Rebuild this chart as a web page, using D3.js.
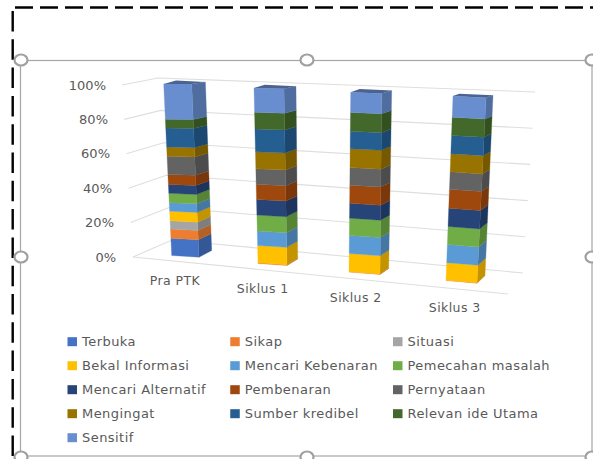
<!DOCTYPE html>
<html>
<head>
<meta charset="utf-8">
<script src="https://cdn.jsdelivr.net/npm/d3@7"></script>
<style>
  html, body { margin: 0; padding: 0; background: #fff; overflow: hidden; }
  text { font-family: "DejaVu Sans", sans-serif; fill: #595959; }
</style>
</head>
<body>
<div id="chart"></div>
<script>
var categories = ["Pra PTK", "Siklus 1", "Siklus 2", "Siklus 3"];

var seriesNames = [
    "Terbuka", "Sikap", "Situasi",
    "Bekal Informasi", "Mencari Kebenaran", "Pemecahan masalah",
    "Mencari Alternatif", "Pembenaran", "Pernyataan",
    "Mengingat", "Sumber kredibel", "Relevan ide Utama",
    "Sensitif"
];

var seriesColors = [
    "#4472c4", "#ed7d31", "#a5a5a5",
    "#ffc000", "#5b9bd5", "#70ad47",
    "#264478", "#9e480e", "#636363",
    "#997300", "#255e91", "#43682b",
    "#698ed0"
];

// percent share, one row per category, same order as seriesNames
var praPtk   = [10.0, 5.4, 4.8, 5.6, 5.0, 5.4, 5.2, 5.8, 10.6, 5.4, 11.0, 5.2, 20.5];
var siklus1  = [0, 0.4, 0, 9.9, 8.3, 9.1, 8.9, 8.7, 8.9, 9.7, 13.1, 9.5, 13.9];
var siklus2  = [0, 0.2, 0, 10.1, 10.1, 9.6, 8.3, 10.1, 9.8, 10.5, 9.8, 10.5, 11.2];
var siklus3  = [0, 0.2, 0, 9.5, 9.9, 9.7, 10.0, 10.2, 9.5, 9.9, 9.9, 9.9, 11.5];
var values = [praPtk, siklus1, siklus2, siklus3];

var yTicks = [0, 20, 40, 60, 80, 100];

var width = 593, height = 459;

var svg = d3.select("#chart").append("svg")
    .attr("width", width)
    .attr("height", height)
    .style("display", "block");

// dashed border of the page, top and left have different dash lengths
svg.append("line")
    .attr("x1", 15).attr("y1", 7.5)
    .attr("x2", width).attr("y2", 7.5)
    .attr("stroke", "#000")
    .attr("stroke-width", 2.4)
    .attr("stroke-dasharray", "18 7");

svg.append("line")
    .attr("x1", 12.7).attr("y1", 11)
    .attr("x2", 12.7).attr("y2", height)
    .attr("stroke", "#000")
    .attr("stroke-width", 2.4)
    .attr("stroke-dasharray", "20.5 7.8");

// selection frame of the pasted chart
svg.append("rect")
    .attr("x", 20.5).attr("y", 60.5)
    .attr("width", 571.5).attr("height", 395.5)
    .attr("fill", "#fff")
    .attr("stroke", "#a6a6a6")
    .attr("stroke-width", 1.2);

// fake 3d: everything is a linear blend between the 0% and 100% planes
var pct = d3.scaleLinear().domain([0, 100]).range([0, 1]);
var wallFrontX = d3.scaleLinear().domain([0, 100]).range([133, 122]);
var wallFrontY = d3.scaleLinear().domain([0, 100]).range([257, 85]);
var wallBackX = d3.scaleLinear().domain([0, 100]).range([172, 158]);
var wallBackY = d3.scaleLinear().domain([0, 100]).range([240, 78]);
var wallEndX = d3.scaleLinear().domain([0, 100]).range([523, 535]);
var wallEndY = d3.scaleLinear().domain([0, 100]).range([273, 92]);
var labelX = d3.scaleLinear().domain([0, 100]).range([116, 106]);

var catIndex = d3.scalePoint().domain(categories).range([0, 3]);
function byCat(range) {
    return d3.scaleLinear().domain([0, 1, 2, 3]).range(range);
}
var leftBottom = byCat([171.7, 258, 349, 446]);
var leftTop = byCat([163.7, 254, 350.7, 453]);
var yBottom = byCat([255.5, 263.5, 272, 280.5]);
var yTop = byCat([84, 88, 92.3, 96]);
var faceBottom = byCat([27.3, 29, 31, 31]);
var faceTop = byCat([28, 30, 31, 33]);
var sideBottom = byCat([12.7, 10.7, 8.7, 8]);
var sideTop = byCat([13.7, 12, 10, 7]);
var slopeBottom = byCat([1.7, 2, 2.4, 2.7]);
var slopeTop = byCat([0, 0.8, 1.2, 1.7]);
var riseBottom = byCat([6.7, 6.5, 6, 7.6]);
var riseTop = byCat([2, 2.5, 3, 2.5]);
var catLabelX = byCat([175, 262.7, 355.7, 454.7]);
var catLabelY = byCat([281, 289.5, 298, 308]);

var grid = svg.append("g").attr("fill", "none").attr("stroke", "#dedede").attr("stroke-width", 1.1);

yTicks.forEach(function(t) {
    grid.append("polyline").attr("points", [
        [wallFrontX(t), wallFrontY(t)],
        [wallBackX(t), wallBackY(t)],
        [wallEndX(t), wallEndY(t)]
    ].join(" "));
});

// floor edge
grid.append("line")
    .attr("x1", wallFrontX(0)).attr("y1", wallFrontY(0))
    .attr("x2", 508).attr("y2", 294);

svg.append("g").selectAll("text")
    .data(yTicks)
    .enter()
    .append("text")
    .attr("x", function(d) { return labelX(d); })
    .attr("y", function(d) { return wallFrontY(d) + 1; })
    .attr("text-anchor", "end")
    .attr("dominant-baseline", "middle")
    .style("font-size", "13px")
    .text(function(d) { return d + "%"; });

function lerp(a, b, t) { return a + (b - a) * t; }

// corners of a bar at a given percent height
function corners(c, v) {
    var t = pct(v);
    var x = lerp(leftBottom(c), leftTop(c), t);
    var y = lerp(yBottom(c), yTop(c), t);
    var w = lerp(faceBottom(c), faceTop(c), t);
    var s = lerp(sideBottom(c), sideTop(c), t);
    var slope = lerp(slopeBottom(c), slopeTop(c), t);
    var rise = lerp(riseBottom(c), riseTop(c), t);
    return {
        fl: [x, y],
        fr: [x + w, y + slope],
        br: [x + w + s, y + slope - rise],
        bl: [x + s * 0.9, y + slope - rise - 1.5]
    };
}

var bars = svg.append("g");

categories.forEach(function(cat) {
    var c = catIndex(cat);
    var row = values[c];
    var stack = d3.cumsum(row);
    var total = stack[stack.length - 1];
    var share = d3.scaleLinear().domain([0, total]).range([0, 100]);
    var g = bars.append("g");

    row.forEach(function(v, i) {
        if (v <= 0) return;
        var lo = corners(c, share(stack[i] - v));
        var hi = corners(c, share(stack[i]));
        var col = d3.color(seriesColors[i]);

        g.append("polygon")
            .attr("points", [lo.fr, lo.br, hi.br, hi.fr].join(" "))
            .attr("fill", col.darker(0.75))
            .attr("stroke", col.darker(0.75))
            .attr("stroke-width", 0.3);

        g.append("polygon")
            .attr("points", [lo.fl, lo.fr, hi.fr, hi.fl].join(" "))
            .attr("fill", col)
            .attr("stroke", col)
            .attr("stroke-width", 0.3);

        if (i === row.length - 1) {
            g.append("polygon")
                .attr("points", [hi.fl, hi.fr, hi.br, hi.bl].join(" "))
                .attr("fill", col.darker(1));
        }
    });

    svg.append("text")
        .attr("x", catLabelX(c))
        .attr("y", catLabelY(c))
        .attr("text-anchor", "middle")
        .attr("dominant-baseline", "middle")
        .style("font-size", "12.5px")
        .style("letter-spacing", "0.4px")
        .text(cat);
});

// legend
var legendCol = d3.scalePoint().domain([0, 1, 2]).range([67.5, 393]);
var legendRow = d3.scaleLinear().domain([0, 4]).range([341.7, 437.7]);

var legend = svg.append("g").selectAll("g")
    .data(seriesNames)
    .enter()
    .append("g")
    .attr("transform", function(d, i) {
        return "translate(" + legendCol(i % 3) + "," + legendRow(Math.floor(i / 3)) + ")";
    });

legend.append("rect")
    .attr("x", 0).attr("y", -4.5)
    .attr("width", 9.5).attr("height", 9)
    .attr("fill", function(d, i) { return seriesColors[i]; });

legend.append("text")
    .attr("x", 14.5)
    .attr("y", 0.5)
    .attr("dominant-baseline", "middle")
    .style("font-size", "13px")
    .style("letter-spacing", "0.45px")
    .text(function(d) { return d; });

// resize handles
var handles = [[21, 60], [307, 60], [592, 60], [21, 257], [592, 257], [21, 457], [307, 457], [592, 457]];
svg.append("g").selectAll("ellipse")
    .data(handles)
    .enter()
    .append("ellipse")
    .attr("cx", function(d) { return d[0]; })
    .attr("cy", function(d) { return d[1]; })
    .attr("rx", 6.5).attr("ry", 5.5)
    .attr("fill", "#fff")
    .attr("stroke", "#a0a0a0")
    .attr("stroke-width", 2.2);
</script>
</body>
</html>
